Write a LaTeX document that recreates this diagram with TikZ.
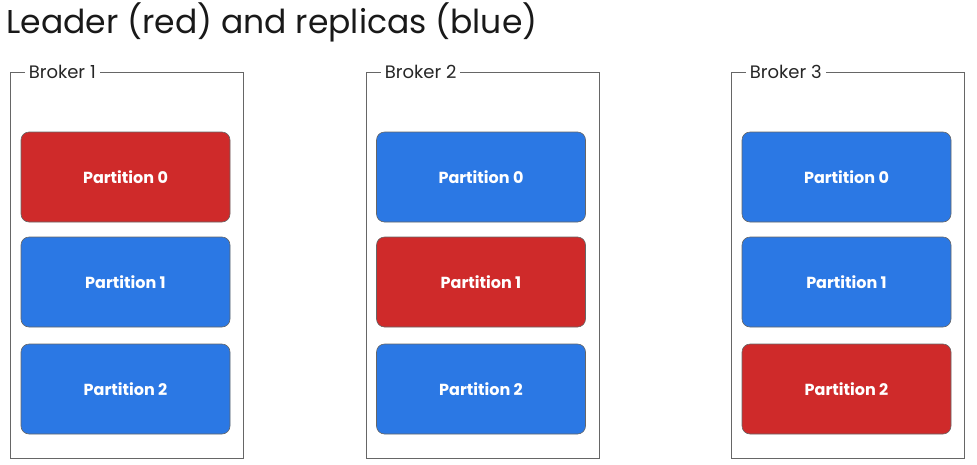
\documentclass[tikz,border=0pt]{standalone}
\usepackage{fontspec}
\setmainfont{Poppins}
\usepackage{tikz}
\usetikzlibrary{positioning}
\definecolor{LeaderRed}{HTML}{CF2A2A}
\definecolor{ReplicaBlue}{HTML}{2B78E4}
\definecolor{FrameGray}{HTML}{666666}
\tikzset{
  % Box styles
  brokerbox/.style={rectangle, draw=FrameGray, line width=0.8pt, minimum width=233pt, minimum height=386pt},
  brokerlabel/.style={fill=white, inner sep=4pt, anchor=west, font=\fontsize{18}{21}\selectfont, text=black!85},
  partbox/.style={rectangle, rounded corners=8pt, draw=FrameGray, line width=0.6pt, minimum width=209pt, minimum height=90pt, text=white, font=\fontsize{16}{19}\selectfont\bfseries},
  leader/.style={partbox, fill=LeaderRed},
  replica/.style={partbox, fill=ReplicaBlue}
}
\begin{document}
\begin{tikzpicture}[x=1pt, y=-1pt]
  \useasboundingbox (0,0) rectangle (977,464);
  % Title
  \node[anchor=west, font=\fontsize{33}{37}\selectfont, text=black!90] (title) at (3,22) {Leader (red) and replicas (blue)};

  % Brokers
  \node[brokerbox] (broker1) at (126.5,265) {};
  \node[brokerbox] (broker2) at (482.5,265) {};
  \node[brokerbox] (broker3) at (847.5,265) {};
  \node[brokerlabel] (lab1) at ([xshift=15pt]broker1.north west) {Broker 1};
  \node[brokerlabel] (lab2) at ([xshift=15pt]broker2.north west) {Broker 2};
  \node[brokerlabel] (lab3) at ([xshift=15pt]broker3.north west) {Broker 3};

  % Broker 1 partitions
  \node[leader] (b1p0) at (125.5,177) {Partition 0};
  \node[replica] (b1p1) at (125.5,282) {Partition 1};
  \node[replica] (b1p2) at (125.5,389) {Partition 2};

  % Broker 2 partitions
  \node[replica] (b2p0) at (481,177) {Partition 0};
  \node[leader] (b2p1) at (481,282) {Partition 1};
  \node[replica] (b2p2) at (481,389) {Partition 2};

  % Broker 3 partitions
  \node[replica] (b3p0) at (846.5,177) {Partition 0};
  \node[replica] (b3p1) at (846.5,282) {Partition 1};
  \node[leader] (b3p2) at (846.5,389) {Partition 2};
\end{tikzpicture}
\end{document}
